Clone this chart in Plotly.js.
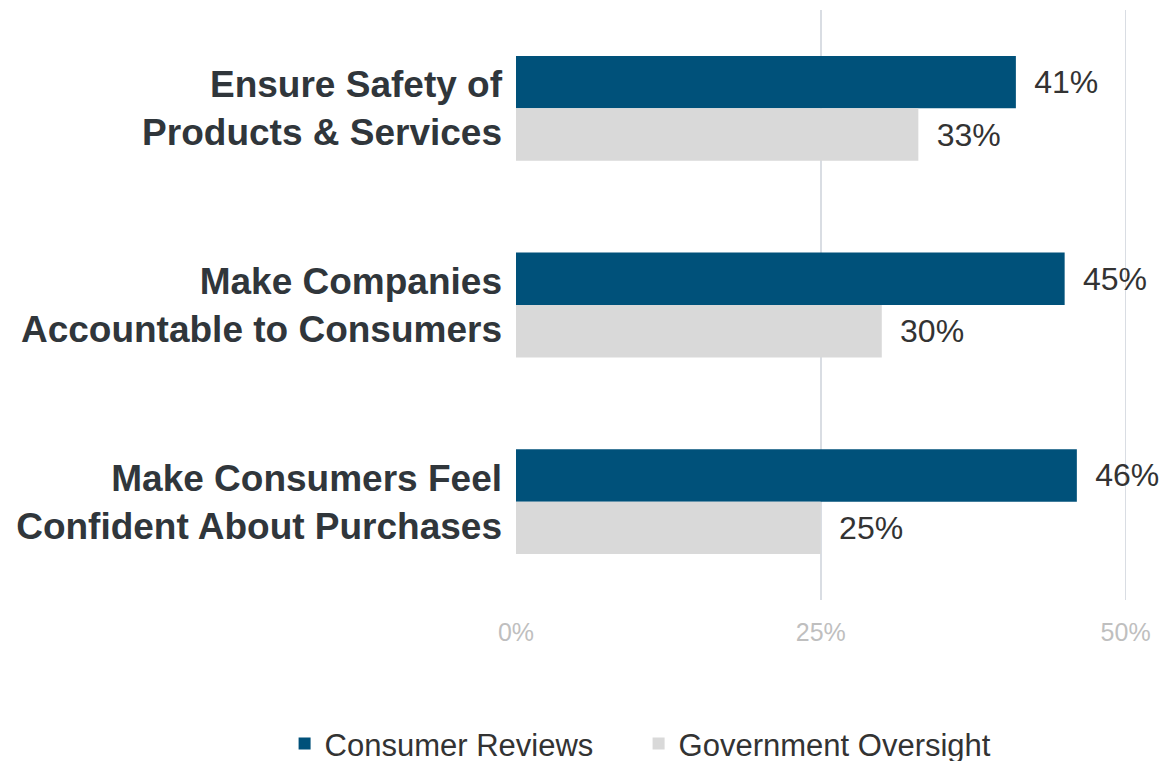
<!DOCTYPE html>
<html>
<head>
<meta charset="utf-8">
<script src="https://cdn.plot.ly/plotly-3.0.1.min.js"></script>
<style>html,body{margin:0;padding:0;background:#fff;overflow:hidden;}#chart{width:1161px;height:790px;}</style>
</head>
<body>
<div id="chart"></div>
<script>
const categories = [
  "Ensure Safety of<br>Products & Services",
  "Make Companies<br>Accountable to Consumers",
  "Make Consumers Feel<br>Confident About Purchases"
];
const seriesNames = ["Consumer Reviews", "Government Oversight"];
const consumerReviews = [0.41, 0.45, 0.46];
const governmentOversight = [0.33, 0.30, 0.25];
const tickValues = [0, 0.25, 0.5];
const tickLabels = ["0%", "25%", "50%"];

const labelFont = {family: "Liberation Sans, Arial, sans-serif", size: 32, color: "#333333"};
const labelTemplate = "\u00a0\u2009%{x:.0%}";
const traces = [
  {
    type: "bar", orientation: "h", name: seriesNames[0],
    y: categories, x: consumerReviews,
    marker: {color: "#00517A"},
    texttemplate: labelTemplate, textposition: "outside",
    textfont: labelFont, cliponaxis: false, hoverinfo: "skip"
  },
  {
    type: "bar", orientation: "h", name: seriesNames[1],
    y: categories, x: governmentOversight,
    marker: {color: "#D9D9D9"},
    texttemplate: labelTemplate, textposition: "outside",
    textfont: labelFont, cliponaxis: false, hoverinfo: "skip"
  }
];

const layout = {
  width: 1161, height: 790,
  margin: {l: 516, r: 11, t: 10, b: 190},
  paper_bgcolor: "#ffffff", plot_bgcolor: "#ffffff",
  barmode: "group", bargap: 0.467, bargroupgap: 0,
  font: {family: "Liberation Sans, Arial, sans-serif"},
  xaxis: {
    range: [0, 0.52], tickvals: tickValues, ticktext: tickLabels,
    showgrid: true, gridcolor: "#D9DDE3", gridwidth: 1.5,
    zeroline: false, showline: false, ticks: "",
    tickfont: {size: 25, color: "#BFBFBF"}, ticklabelstandoff: 15
  },
  yaxis: {
    type: "category", autorange: "reversed",
    showgrid: false, zeroline: false, showline: false, ticks: "",
    tickfont: {size: 37, color: "#30363B", weight: "bold"},
    ticklabelstandoff: 13
  },
  showlegend: true,
  legend: {
    orientation: "h",
    x: -0.365, xanchor: "left", y: -0.244, yanchor: "middle",
    font: {size: 31, color: "#333333"}, itemwidth: 30,
    entrywidth: 309,
    bgcolor: "rgba(0,0,0,0)"
  }
};

Plotly.newPlot("chart", traces, layout, {displayModeBar: false, staticPlot: true});
</script>
</body>
</html>
